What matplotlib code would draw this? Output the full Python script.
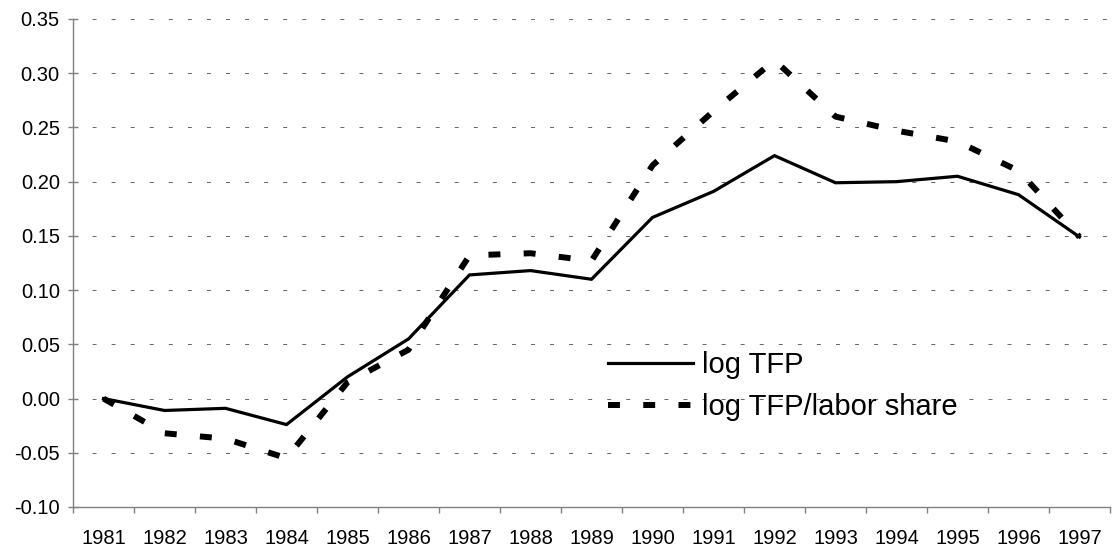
import matplotlib
matplotlib.use("Agg")
import matplotlib.pyplot as plt
import numpy as np

years = [str(y) for y in range(1981, 1998)]
log_tfp = [0.000, -0.011, -0.009, -0.024, 0.020, 0.055, 0.114, 0.118, 0.110,
           0.167, 0.191, 0.224, 0.199, 0.200, 0.205, 0.188, 0.149]
log_tfp_labor = [0.000, -0.032, -0.037, -0.055, 0.015, 0.045, 0.132, 0.134, 0.127,
                 0.215, 0.265, 0.312, 0.260, 0.247, 0.237, 0.210, 0.149]
yticks = [-0.10, -0.05, 0.00, 0.05, 0.10, 0.15, 0.20, 0.25, 0.30, 0.35]

plt.rcParams['font.family'] = ['Liberation Sans', 'DejaVu Sans']

fig = plt.figure(figsize=(11.12, 5.54), dpi=100)
ax = fig.add_axes([73/1112, 1 - 507/554, (1110-73)/1112, (507-19)/554])

x = np.arange(len(years))
ax.plot(x, log_tfp, color='black', lw=2.3, solid_joinstyle='miter', label='log TFP', zorder=3)
dl, = ax.plot(x, log_tfp_labor, color='black', lw=4.3, dash_capstyle='butt',
              label='log TFP/labor share', zorder=3)
dl.set_dashes((2.0, 3.9))

ax.set_xlim(-0.5, len(years) - 0.5)
ax.set_ylim(-0.10, 0.35)
ax.set_yticks(yticks)
ax.set_yticklabels([f"{v:.2f}" for v in yticks])

ax.set_xticks(np.arange(-0.5, len(years), 1.0))
ax.set_xticklabels([])
ax.set_xticks(x, minor=True)
ax.set_xticklabels(years, minor=True)
ax.tick_params(axis='x', which='major', direction='out', length=4.5, width=1, color='#808080')
ax.tick_params(axis='x', which='minor', length=0, pad=16, labelsize=14.5)
ax.tick_params(axis='y', direction='inout', length=7, width=1, color='#808080', pad=6, labelsize=14.5)

for v in yticks[1:]:
    gl = ax.axhline(v, color='#6a6a6a', lw=0.75, zorder=1)
    gl.set_dashes((3.8, 14.5))

for s in ['top', 'right']:
    ax.spines[s].set_visible(False)
for s in ['left', 'bottom']:
    ax.spines[s].set_color('#808080')
    ax.spines[s].set_linewidth(1)

leg = fig.legend(loc='center left', bbox_to_anchor=(608/1112, 1 - 386/554),
                 frameon=False, fontsize=21, handlelength=2.92, handletextpad=0.3,
                 labelspacing=0.5, borderpad=0, borderaxespad=0)

fig.savefig('out.png', dpi=100)
